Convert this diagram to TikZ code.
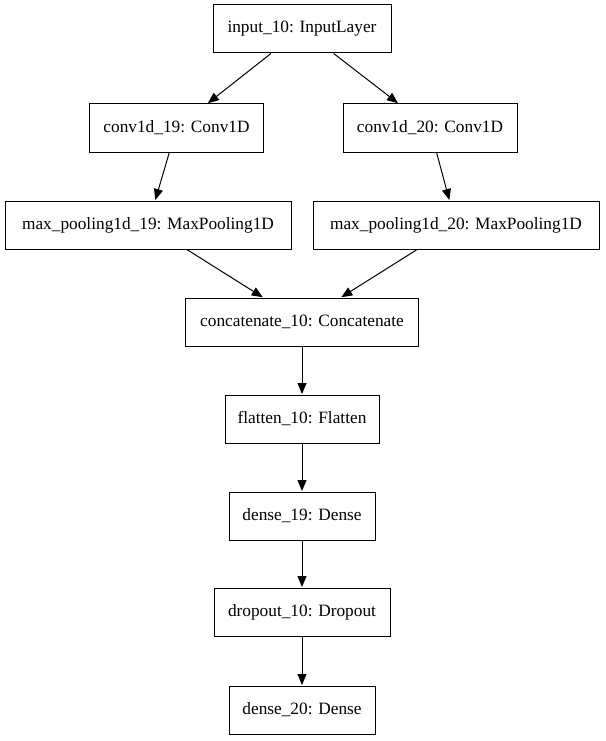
\documentclass[tikz,border=0pt]{standalone}
\usepackage{fontspec}
\setmainfont{Liberation Serif}
\usetikzlibrary{arrows.meta}
\begin{document}
\begin{tikzpicture}[x=1pt,y=-1pt,
  layer/.style={draw=black, line width=1pt, inner sep=0pt, minimum height=48pt,
    font=\fontsize{17.3}{20}\selectfont},
  flow/.style={draw=black, line width=1pt, -{Triangle[length=11pt,width=9pt]}, shorten >=0.5pt}]
  \useasboundingbox (0,0) rectangle (605,741);
  % input
  \node[layer, minimum width=178pt] (in) at (302,29) {input\_10: InputLayer};
  % two convolution branches
  \node[layer, minimum width=174pt] (c19) at (176.5,128) {conv1d\_19: Conv1D};
  \node[layer, minimum width=174pt] (c20) at (430,128) {conv1d\_20: Conv1D};
  \node[layer, minimum width=286pt] (p19) at (148,225) {max\_pooling1d\_19: MaxPooling1D};
  \node[layer, minimum width=286pt] (p20) at (456,225) {max\_pooling1d\_20: MaxPooling1D};
  % merged trunk
  \node[layer, minimum width=233pt] (cat) at (302,322) {concatenate\_10: Concatenate};
  \node[layer, minimum width=154pt] (fl) at (302,419) {flatten\_10: Flatten};
  \node[layer, minimum width=146pt] (d19) at (302,516) {dense\_19: Dense};
  \node[layer, minimum width=176pt] (dr) at (302,612) {dropout\_10: Dropout};
  \node[layer, minimum width=146pt] (d20) at (302,710) {dense\_20: Dense};
  % connections
  \draw[flow] (in) -- (c19);
  \draw[flow] (in) -- (c20);
  \draw[flow] (c19) -- (p19);
  \draw[flow] (c20) -- (p20);
  \draw[flow] (p19) -- (cat);
  \draw[flow] (p20) -- (cat);
  \draw[flow] (cat) -- (fl);
  \draw[flow] (fl) -- (d19);
  \draw[flow] (d19) -- (dr);
  \draw[flow] (dr) -- (d20);
\end{tikzpicture}
\end{document}
